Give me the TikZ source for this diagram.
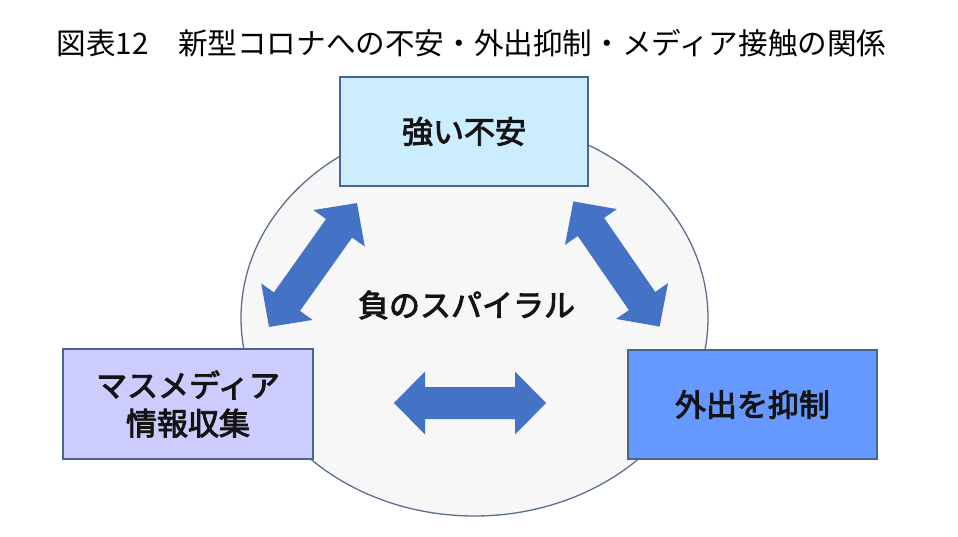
\documentclass[tikz,border=0pt]{standalone}
\usepackage{fontspec}
\newfontfamily\jp{Noto Sans CJK JP}
\newfontfamily\jpb{Noto Sans CJK JP}[FakeBold=3]
\definecolor{topfill}{HTML}{CCECFF}
\definecolor{leftfill}{HTML}{CCCCFF}
\definecolor{rightfill}{HTML}{6699FF}
\definecolor{boxline}{HTML}{4A6590}
\definecolor{ellfill}{HTML}{F7F7F7}
\definecolor{ellline}{HTML}{5B6F8E}
\definecolor{arrowblue}{HTML}{4472C4}
\begin{document}
\begin{tikzpicture}[x=1pt,y=-1pt,
  titletext/.style={font=\jp\fontsize{29.6}{34}\selectfont, text=black, inner sep=0pt},
  box/.style={draw=boxline, line width=1.3pt, inner sep=0pt, font=\jpb\fontsize{31}{40}\selectfont, align=center, text=black!92},
  spiral/.style={draw=ellline, line width=1.3pt, fill=ellfill},
  lbl/.style={font=\jpb\fontsize{31}{40}\selectfont, text=black!92, inner sep=0pt},
  dbl/.pic={\fill[arrowblue] (-76,0) -- (-45,-31.5) -- (-45,-16) -- (45,-16) -- (45,-31.5) -- (76,0) -- (45,31.5) -- (45,16) -- (-45,16) -- (-45,31.5) -- cycle;}
]
\useasboundingbox (0,0) rectangle (958,537);
\node[titletext] (title) at (471.5,43) {図表12　新型コロナへの不安・外出抑制・メディア接触の関係};
\draw[spiral] (474.5,318) ellipse [x radius=233.5, y radius=198];
\coordinate (spiralc) at (474.5,318);
\node[box, fill=topfill, minimum width=248, minimum height=109] (anx) at (464,131.5) {強い不安};
\node[box, fill=leftfill, minimum width=250, minimum height=110] (media) at (188,404) {マスメディア\\[-2pt]情報収集};
\node[box, fill=rightfill, minimum width=249, minimum height=109] (stay) at (752.5,404.5) {外出を抑制};
\node[lbl] (neg) at (466.5,305) {負のスパイラル};
\pic[rotate=54.6] at (313,265) {dbl};
\pic[rotate=-55.4] at (616.5,264) {dbl};
\pic at (470,403) {dbl};
\end{tikzpicture}
\end{document}
